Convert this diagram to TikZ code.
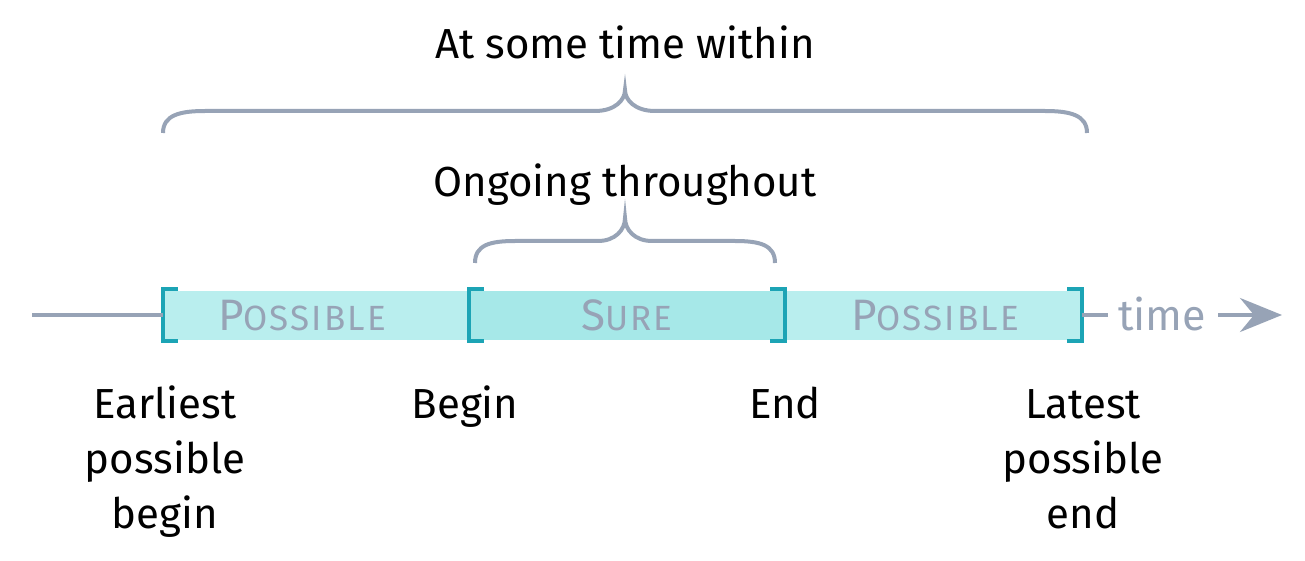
\documentclass[tikz,border=0pt]{standalone}
\usepackage{fontspec}
\setmainfont{Fira Sans}[Ligatures=NoCommon]
\usetikzlibrary{arrows.meta}
\definecolor{possfill}{HTML}{B9EEEE}
\definecolor{surefill}{HTML}{A6E8E8}
\definecolor{brk}{HTML}{1CA4B5}
\definecolor{gr}{HTML}{97A3B6}
\newcommand\fsc[2]{{\fontsize{44}{44}\selectfont #1}{\fontsize{35}{35}\selectfont\addfontfeature{LetterSpace=6}#2}}
\begin{document}
\begin{tikzpicture}[x=1pt,y=-1pt,
  seg/.style={draw=none, minimum height=49pt, inner sep=0pt, anchor=west},
  brkt/.style={draw=brk, line width=4pt},
  brace/.style={draw=gr, line width=4pt},
  lbl/.style={font=\fontsize{42}{55}\selectfont, align=center, anchor=base, text=black, inner sep=0pt},
  glbl/.style={text=gr, anchor=base, inner sep=0pt},
  axis/.style={draw=gr, line width=4pt}]
\useasboundingbox (0,0) rectangle (1305,561);
% segments
\node[seg, fill=possfill, minimum width=306pt] (p1) at (163,315) {};
\node[seg, fill=surefill, minimum width=316pt] (s) at (469,315) {};
\node[seg, fill=possfill, minimum width=297pt] (p2) at (785,315) {};
% segment labels
\node[glbl] (lp1) at (302,330) {\fsc{P}{OSSIBLE}};
\node[glbl] (ls) at (627,330) {\fsc{S}{URE}};
\node[glbl] (lp2) at (935,330) {\fsc{P}{OSSIBLE}};
% brackets
\draw[brkt] (178,289) -- (163,289) -- (163,341) -- (178,341);
\draw[brkt] (484,289) -- (469,289) -- (469,341) -- (484,341);
\draw[brkt] (770,289) -- (785,289) -- (785,341) -- (770,341);
\draw[brkt] (1067,289) -- (1082,289) -- (1082,341) -- (1067,341);
% axis
\coordinate (start) at (32,315);
\coordinate (tip) at (1282,315);
\node[glbl, font=\fontsize{43}{43}\selectfont] (time) at (1162,330) {time};
\draw[axis] (start) -- (p1.west);
\draw[axis] (p2.east) -- (1108,315);
\draw[axis, -{Stealth[length=42pt, width=34pt, inset=14pt]}] (1218,315) -- (tip);
% braces
\draw[brace] (163,133) .. controls (163,115) and (180,111) .. (205,111) -- (595,111) .. controls (615,111) and (625,100) .. (625,90) .. controls (625,100) and (635,111) .. (655,111) -- (1045,111) .. controls (1070,111) and (1087,115) .. (1087,133);
\draw[brace] (475,263) .. controls (475,245) and (490,241) .. (515,241) -- (598,241) .. controls (615,241) and (625,230) .. (625,218) .. controls (625,230) and (635,241) .. (652,241) -- (735,241) .. controls (760,241) and (775,245) .. (775,263);
% titles
\node[lbl] (t1) at (625,59) {At some time within};
\node[lbl] (t2) at (625,197) {Ongoing throughout};
% bottom labels
\node[lbl] (eb) at (165,528) {Earliest\\possible\\begin};
\node[lbl] (b) at (465,418) {Begin};
\node[lbl] (e) at (785,418) {End};
\node[lbl] (le) at (1083,528) {Latest\\possible\\end};
\end{tikzpicture}
\end{document}
